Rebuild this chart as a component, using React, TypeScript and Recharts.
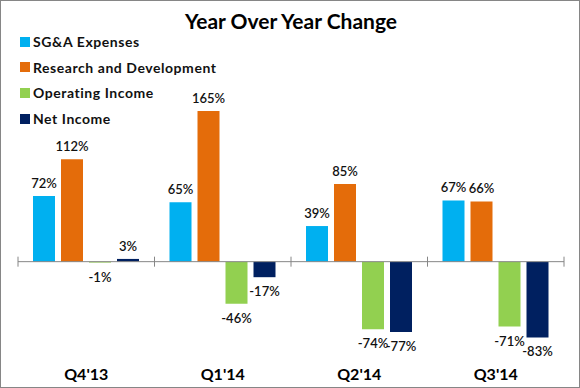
import { BarChart, Bar, XAxis, YAxis, Legend, LabelList, ReferenceLine } from 'recharts';

const categories = ["Q4'13", "Q1'14", "Q2'14", "Q3'14"];
const seriesNames = ['SG&A Expenses', 'Research and Development', 'Operating Income', 'Net Income'];
const sgaExpenses = [72, 65, 39, 67];
const researchDev = [112, 165, 85, 66];
const operatingIncome = [-1, -46, -74, -71];
const netIncome = [3, -17, -77, -83];

const data = categories.map((quarter, i) => ({
  quarter,
  sga: sgaExpenses[i],
  rnd: researchDev[i],
  op: operatingIncome[i],
  net: netIncome[i],
}));

const FONT = 'Lato, "Open Sans", sans-serif';

function ValueLabel(props: any) {
  const { x, y, width, height, value } = props;
  const top = Math.min(y, y + height);
  const bottom = Math.max(y, y + height);
  const cx = x + width / 2;
  const ty = value >= 0 ? top - 8 : bottom + 19;
  return (
    <text x={cx} y={ty} textAnchor="middle" fill="#111" fontSize={13} fontWeight={600} fontFamily={FONT}>
      {`${value}%`}
    </text>
  );
}

function ZeroAxis(props: any) {
  const { x1, x2, y1 } = props;
  const n = categories.length;
  const step = (x2 - x1) / n;
  const ticks = Array.from({ length: n + 1 }, (_, i) => x1 + i * step);
  return (
    <g>
      <line x1={x1} x2={x2} y1={y1} y2={y1} stroke="#868686" strokeWidth={1} />
      {ticks.map((tx) => (
        <line key={tx} x1={tx} x2={tx} y1={y1 - 5} y2={y1 + 5} stroke="#868686" strokeWidth={1} />
      ))}
    </g>
  );
}

function LegendBox(props: any) {
  const items = [...(props.payload || [])].sort(
    (a: any, b: any) => seriesNames.indexOf(a.value) - seriesNames.indexOf(b.value),
  );
  return (
    <div style={{ fontFamily: FONT }}>
      {items.map((item: any) => (
        <div key={item.value} style={{ display: 'flex', alignItems: 'center', height: 25.6 }}>
          <span style={{ width: 10, height: 10, background: item.color, marginRight: 3 }} />
          <span style={{ fontSize: 14, fontWeight: 700, color: '#111', letterSpacing: 0.55 }}>
            {item.value}
          </span>
        </div>
      ))}
    </div>
  );
}

export default function App() {
  return (
    <div style={{ position: 'relative', width: 580, height: 388, background: '#fff' }}>
      <style>{'body{margin:0}'}</style>
      <div
        style={{
          position: 'absolute',
          top: 8,
          left: 0,
          width: 580,
          textAlign: 'center',
          fontFamily: FONT,
          fontWeight: 700,
          fontSize: 21,
          color: '#000',
          paddingLeft: 1,
        }}
      >
        Year Over Year Change
      </div>
      <BarChart
        width={580}
        height={388}
        data={data}
        margin={{ top: 79, right: 16, left: 18, bottom: 0 }}
        barSize={22}
        barGap={6}
      >
        <XAxis
          dataKey="quarter"
          height={35}
          axisLine={false}
          tickLine={false}
          tick={{ fill: '#000', fontSize: 16, fontWeight: 700, fontFamily: FONT }}
          dy={8}
        />
        <YAxis hide domain={[-100, 200]} />
        <ReferenceLine y={0} shape={ZeroAxis} />
        <Legend
          layout="vertical"
          align="center"
          verticalAlign="middle"
          content={LegendBox}
          wrapperStyle={{ top: 29, left: 20, width: 230 }}
        />
        <Bar dataKey="sga" name={seriesNames[0]} fill="#00B0F0" isAnimationActive={false}>
          <LabelList dataKey="sga" content={ValueLabel} />
        </Bar>
        <Bar dataKey="rnd" name={seriesNames[1]} fill="#E46C0A" isAnimationActive={false}>
          <LabelList dataKey="rnd" content={ValueLabel} />
        </Bar>
        <Bar dataKey="op" name={seriesNames[2]} fill="#92D050" isAnimationActive={false}>
          <LabelList dataKey="op" content={ValueLabel} />
        </Bar>
        <Bar dataKey="net" name={seriesNames[3]} fill="#002060" isAnimationActive={false}>
          <LabelList dataKey="net" content={ValueLabel} />
        </Bar>
      </BarChart>
      <div
        style={{
          position: 'absolute',
          inset: 0,
          border: '1px solid #868686',
          boxSizing: 'border-box',
          pointerEvents: 'none',
        }}
      />
    </div>
  );
}
